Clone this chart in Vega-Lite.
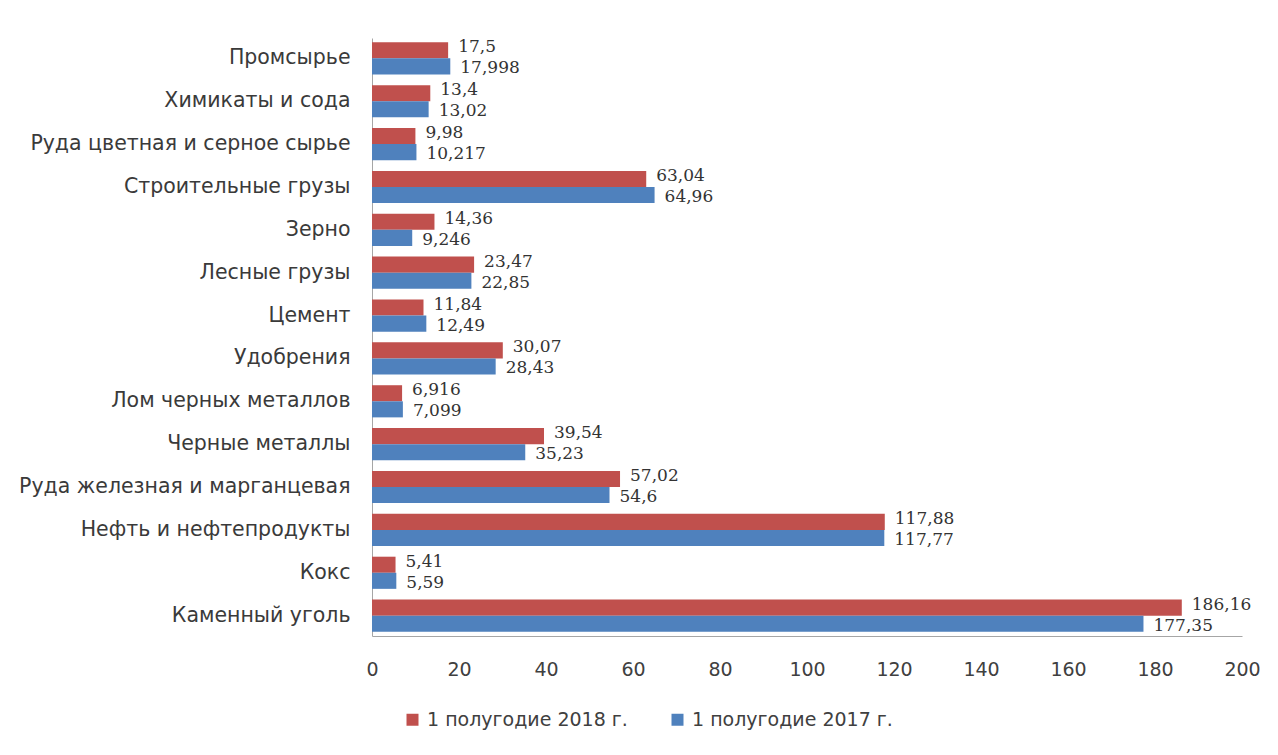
{
  "$schema": "https://vega.github.io/schema/vega-lite/v6.json",
  "autosize": {"type": "none"},
  "width": 870,
  "height": 598,
  "padding": {"left": 372, "top": 38, "right": 36, "bottom": 119},
  "background": "white",
  "config": {"view": {"stroke": null}, "font": "DejaVu Sans"},
  "data": {"values": [
    {"cat": "Промсырье", "series": "1 полугодие 2018 г.", "v": 17.5, "label": "17,5"},
    {"cat": "Промсырье", "series": "1 полугодие 2017 г.", "v": 17.998, "label": "17,998"},
    {"cat": "Химикаты и сода", "series": "1 полугодие 2018 г.", "v": 13.4, "label": "13,4"},
    {"cat": "Химикаты и сода", "series": "1 полугодие 2017 г.", "v": 13.02, "label": "13,02"},
    {"cat": "Руда цветная и серное сырье", "series": "1 полугодие 2018 г.", "v": 9.98, "label": "9,98"},
    {"cat": "Руда цветная и серное сырье", "series": "1 полугодие 2017 г.", "v": 10.217, "label": "10,217"},
    {"cat": "Строительные  грузы", "series": "1 полугодие 2018 г.", "v": 63.04, "label": "63,04"},
    {"cat": "Строительные  грузы", "series": "1 полугодие 2017 г.", "v": 64.96, "label": "64,96"},
    {"cat": "Зерно", "series": "1 полугодие 2018 г.", "v": 14.36, "label": "14,36"},
    {"cat": "Зерно", "series": "1 полугодие 2017 г.", "v": 9.246, "label": "9,246"},
    {"cat": "Лесные грузы", "series": "1 полугодие 2018 г.", "v": 23.47, "label": "23,47"},
    {"cat": "Лесные грузы", "series": "1 полугодие 2017 г.", "v": 22.85, "label": "22,85"},
    {"cat": "Цемент", "series": "1 полугодие 2018 г.", "v": 11.84, "label": "11,84"},
    {"cat": "Цемент", "series": "1 полугодие 2017 г.", "v": 12.49, "label": "12,49"},
    {"cat": "Удобрения", "series": "1 полугодие 2018 г.", "v": 30.07, "label": "30,07"},
    {"cat": "Удобрения", "series": "1 полугодие 2017 г.", "v": 28.43, "label": "28,43"},
    {"cat": "Лом черных металлов", "series": "1 полугодие 2018 г.", "v": 6.916, "label": "6,916"},
    {"cat": "Лом черных металлов", "series": "1 полугодие 2017 г.", "v": 7.099, "label": "7,099"},
    {"cat": "Черные  металлы", "series": "1 полугодие 2018 г.", "v": 39.54, "label": "39,54"},
    {"cat": "Черные  металлы", "series": "1 полугодие 2017 г.", "v": 35.23, "label": "35,23"},
    {"cat": "Руда железная и марганцевая", "series": "1 полугодие 2018 г.", "v": 57.02, "label": "57,02"},
    {"cat": "Руда железная и марганцевая", "series": "1 полугодие 2017 г.", "v": 54.6, "label": "54,6"},
    {"cat": "Нефть и нефтепродукты ", "series": "1 полугодие 2018 г.", "v": 117.88, "label": "117,88"},
    {"cat": "Нефть и нефтепродукты ", "series": "1 полугодие 2017 г.", "v": 117.77, "label": "117,77"},
    {"cat": "Кокс", "series": "1 полугодие 2018 г.", "v": 5.41, "label": "5,41"},
    {"cat": "Кокс", "series": "1 полугодие 2017 г.", "v": 5.59, "label": "5,59"},
    {"cat": "Каменный уголь", "series": "1 полугодие 2018 г.", "v": 186.16, "label": "186,16"},
    {"cat": "Каменный уголь", "series": "1 полугодие 2017 г.", "v": 177.35, "label": "177,35"}
  ]},
  "encoding": {
    "y": {
      "field": "cat", "type": "nominal", "sort": null,
      "scale": {"paddingInner": 0.25, "paddingOuter": 0.1},
      "axis": {"title": null, "ticks": false, "domainColor": "#A6A6A6", "labelFontSize": 20.5, "labelColor": "#3A3A3A", "labelPadding": 22, "labelFont": "DejaVu Sans", "labelLimit": 400}
    },
    "yOffset": {"field": "series", "type": "nominal", "sort": ["1 полугодие 2018 г.", "1 полугодие 2017 г."]},
    "x": {
      "field": "v", "type": "quantitative",
      "scale": {"domain": [0, 200], "nice": false},
      "axis": {"title": null, "values": [0,20,40,60,80,100,120,140,160,180,200], "labelOverlap": false, "labelFlush": false, "ticks": false, "grid": false, "domainColor": "#A6A6A6", "labelFontSize": 19, "labelColor": "#404040", "labelPadding": 24, "labelFont": "DejaVu Sans"}
    }
  },
  "layer": [
    {
      "mark": {"type": "bar"},
      "encoding": {
        "color": {
          "field": "series", "type": "nominal",
          "sort": ["1 полугодие 2018 г.", "1 полугодие 2017 г."],
          "scale": {"domain": ["1 полугодие 2018 г.", "1 полугодие 2017 г."], "range": ["#C0504D", "#4F81BD"]},
          "legend": {"title": null, "orient": "none", "direction": "horizontal", "legendX": 31, "legendY": 672, "padding": 0, "symbolType": "square", "symbolSize": 144, "symbolStrokeWidth": 0, "labelFontSize": 19, "labelColor": "#404040", "labelFont": "DejaVu Sans", "labelLimit": 400, "columnPadding": 40, "labelOffset": 5}
        }
      }
    },
    {
      "transform": [{"filter": "datum.series === '1 полугодие 2018 г.'"}],
      "mark": {"type": "text", "align": "left", "baseline": "middle", "dx": 10, "dy": -3, "font": "DejaVu Serif", "fontSize": 17, "color": "#333333"},
      "encoding": {"text": {"field": "label"}}
    },
    {
      "transform": [{"filter": "datum.series === '1 полугодие 2017 г.'"}],
      "mark": {"type": "text", "align": "left", "baseline": "middle", "dx": 10, "dy": 2, "font": "DejaVu Serif", "fontSize": 17, "color": "#333333"},
      "encoding": {"text": {"field": "label"}}
    }
  ]
}
